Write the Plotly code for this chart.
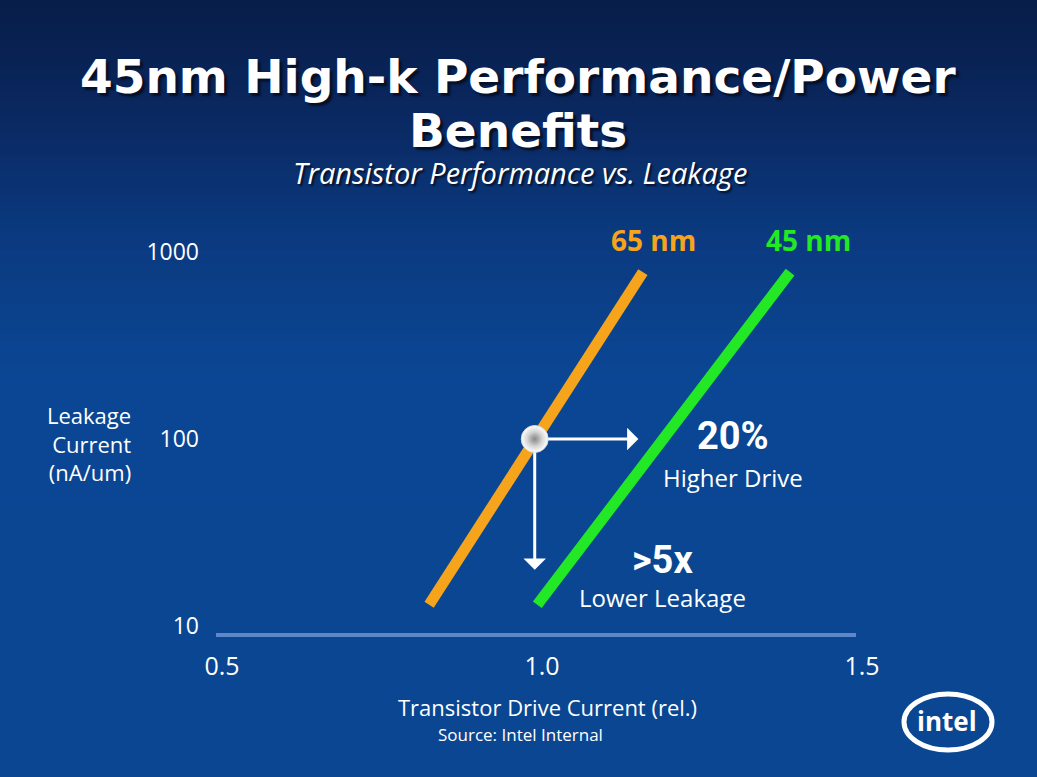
import numpy as np
import plotly.graph_objects as go

# data
drive_65 = [0.833, 1.167]
leak_65 = [13, 780]
drive_45 = [1.002, 1.397]
leak_45 = [13, 780]

ref_drive = [0.998]
ref_leak = [100]
drive_arrow_end = [1.16, 100]    # 20% higher drive
leak_arrow_end = [0.998, 20]     # >5x lower leakage

y_ticks = [10, 100, 1000]
y_tick_text = ['10', '100', '1000']
x_ticks = [0.5, 1.0, 1.5]
x_tick_text = ['0.5', '1.0', '1.5']

W, H = 1037, 777
ORANGE = '#f5a41c'
GREEN = '#22e826'
FONT = 'Open Sans, Noto Sans, sans-serif'


def px(x):
    return x / W


def py(y):
    return 1 - y / H


fig = go.Figure()

fig.add_trace(go.Scatter(x=drive_65, y=leak_65, mode='lines',
                         line=dict(color=ORANGE, width=11), hoverinfo='skip'))
fig.add_trace(go.Scatter(x=drive_45, y=leak_45, mode='lines',
                         line=dict(color=GREEN, width=11), hoverinfo='skip'))

# the silver button on the 65nm line
fig.add_trace(go.Scatter(x=ref_drive, y=ref_leak, mode='markers',
                         marker=dict(size=27, color='#ffffff',
                                     gradient=dict(type='radial', color='#a0a0a0'),
                                     line=dict(color='#d8d8d8', width=1)),
                         hoverinfo='skip'))
fig.add_trace(go.Scatter(x=ref_drive, y=ref_leak, mode='markers',
                         marker=dict(size=13, color='#c8c8c8',
                                     gradient=dict(type='radial', color='#888888')),
                         hoverinfo='skip'))

# background gradient: dark navy at the top, bright blue from mid-slide down
stops = [(0.0, (8, 30, 74)), (0.12, (10, 38, 92)), (0.30, (11, 58, 128)),
         (0.48, (11, 71, 148)), (1.0, (10, 70, 145))]
shapes = []
n = 100
for i in range(n):
    t = i / (n - 1)
    for (t0, c0), (t1, c1) in zip(stops[:-1], stops[1:]):
        if t0 <= t <= t1:
            f = (t - t0) / (t1 - t0)
            c = [int(a + (b - a) * f) for a, b in zip(c0, c1)]
            break
    shapes.append(dict(type='rect', xref='paper', yref='paper', layer='below',
                       x0=-0.05, x1=1.05, y0=1 - (i + 1) / n - 0.002, y1=1 - i / n,
                       fillcolor='rgb(%d,%d,%d)' % tuple(c),
                       line=dict(width=0)))

# intel logo swoosh
shapes.append(dict(type='circle', xref='paper', yref='paper', layer='above',
                   x0=px(904), x1=px(992), y0=py(750), y1=py(694),
                   line=dict(color='white', width=5)))

annotations = [
    dict(text='45nm High-k Performance/Power', x=px(518), y=py(77),
         font=dict(family='Verdana, DejaVu Sans', size=47, color='white',
                   weight='bold', shadow='3px 3px 2px #061028')),
    dict(text='Benefits', x=px(518), y=py(130),
         font=dict(family='Verdana, DejaVu Sans', size=47, color='white',
                   weight='bold', shadow='3px 3px 2px #061028')),
    dict(text='Transistor Performance vs. Leakage', x=px(520), y=py(172),
         font=dict(family=FONT, size=29, color='white', style='italic',
                   shadow='2px 2px 2px #061028')),
    dict(text='Leakage<br>Current<br>(nA/um)', x=px(133), y=py(443),
         xanchor='right', align='right',
         font=dict(family=FONT, size=22, color='white')),
    dict(text='Transistor Drive Current (rel.)', x=px(547), y=py(707),
         font=dict(family=FONT, size=22, color='white')),
    dict(text='Source: Intel Internal', x=px(520), y=py(734),
         font=dict(family=FONT, size=17, color='white')),
    dict(text='<b>intel</b>', x=px(947), y=py(721),
         font=dict(family=FONT, size=26, color='white')),
]
for a in annotations:
    a.update(xref='paper', yref='paper', showarrow=False)
    a.setdefault('xanchor', 'center')
    a.setdefault('yanchor', 'middle')

# labels placed in data space (y given as log10 on the log axis)
data_labels = [
    ('<b>65 nm</b>', 1.183, 3.064, ORANGE, 28),
    ('<b>45 nm</b>', 1.425, 3.064, GREEN, 28),
    ('<b>20%</b>', 1.308, 2.015, 'white', 38),
    ('Higher Drive', 1.308, 1.795, 'white', 24),
    ('<b>>5x</b>', 1.197, 1.355, 'white', 38),
    ('Lower Leakage', 1.197, 1.155, 'white', 24),
]
for txt, xv, yv, col, sz in data_labels:
    fam = 'Roboto, Open Sans' if sz > 30 else FONT
    annotations.append(dict(text=txt, x=xv, y=yv, xref='x', yref='y',
                            showarrow=False, xanchor='center', yanchor='middle',
                            font=dict(family=fam, size=sz, color=col)))

# the two arrows from the silver button
for hx, hy in [drive_arrow_end, leak_arrow_end]:
    annotations.append(dict(text='', x=hx, y=np.log10(hy), xref='x', yref='y',
                            ax=ref_drive[0], ay=np.log10(ref_leak[0]),
                            axref='x', ayref='y', showarrow=True,
                            arrowhead=1, arrowsize=1.25, arrowwidth=3,
                            arrowcolor='white', startstandoff=12))

fig.update_layout(
    width=W, height=H, autosize=False,
    margin=dict(l=0, r=0, t=0, b=0, pad=0, autoexpand=False),
    paper_bgcolor='rgb(10,70,145)',
    plot_bgcolor='rgba(0,0,0,0)',
    showlegend=False,
    shapes=shapes,
    annotations=annotations,
    xaxis=dict(domain=[px(216), px(856)], range=[0.5, 1.5],
               tickvals=x_ticks, ticktext=x_tick_text,
               showgrid=False, zeroline=False, automargin=False,
               showline=True, linecolor='#5d87c6', linewidth=4,
               ticks='', ticklabelstandoff=8, ticklabelshift=6,
               tickfont=dict(family=FONT, size=25, color='white')),
    yaxis=dict(domain=[py(633), py(240)], type='log', range=[0.9627, 3.064],
               tickvals=y_ticks, ticktext=y_tick_text,
               showgrid=False, zeroline=False, showline=False, automargin=False,
               ticks='', ticklabelstandoff=16,
               tickfont=dict(family=FONT, size=23, color='white')),
)

# drop the default page margin so the slide fills the window
fig.write_html('out.html', config={'displayModeBar': False},
               post_script="document.body.style.margin='0';"
               "document.body.style.overflow='hidden';")
